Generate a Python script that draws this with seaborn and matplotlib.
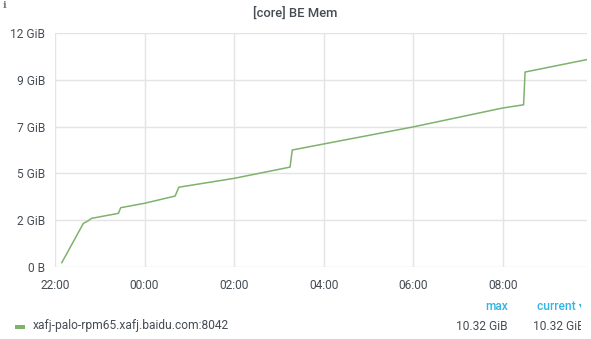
import matplotlib
matplotlib.use("Agg")
import matplotlib.pyplot as plt
import numpy as np
import pandas as pd
import seaborn as sns

# ---- data ----
timestamps = [
    "2020-06-01 22:09", "2020-06-01 22:38", "2020-06-01 22:44", "2020-06-01 22:49",
    "2020-06-01 23:25", "2020-06-01 23:28", "2020-06-02 00:00", "2020-06-02 00:41",
    "2020-06-02 00:46", "2020-06-02 02:00", "2020-06-02 03:15", "2020-06-02 03:18",
    "2020-06-02 04:00", "2020-06-02 06:00", "2020-06-02 08:00", "2020-06-02 08:28",
    "2020-06-02 08:30", "2020-06-02 09:53",
]
mem_gib = [
    0.21, 2.17, 2.29, 2.42,
    2.67, 2.95, 3.17, 3.53,
    3.97, 4.41, 4.97, 5.82,
    6.12, 6.97, 7.91, 8.07,
    9.70, 10.32,
]
series_name = "xafj-palo-rpm65.xafj.baidu.com:8042"
legend_headers = ["max", "current \u25be"]
legend_values = ["10.32 GiB", "10.32 GiB"]
title = "[core] BE Mem"

x_tick_labels = ["22:00", "00:00", "02:00", "04:00", "06:00", "08:00"]
x_tick_dates = ["2020-06-01", "2020-06-02", "2020-06-02", "2020-06-02", "2020-06-02", "2020-06-02"]
y_tick_labels = ["0 B", "2 GiB", "5 GiB", "7 GiB", "9 GiB", "12 GiB"]
y_tick_bytes = [0, 2.5e9, 5.0e9, 7.5e9, 10.0e9, 12.5e9]
x_range = ["2020-06-01 22:00", "2020-06-02 09:53"]

df = pd.DataFrame({"time": pd.to_datetime(timestamps), "mem": mem_gib})

# ---- style ----
sns.set_style("white")
plt.rcParams["font.family"] = ["Roboto", "DejaVu Sans"]
text_col = "#464c54"
grid_col = "#e4e4e4"
line_col = "#7eb26d"
px = 72 / 100.0  # points per pixel at dpi 100

fig = plt.figure(figsize=(5.91, 3.39), dpi=100)
ax = fig.add_axes([55 / 591, 1 - 267 / 339, (587 - 55) / 591, (267 - 33) / 339])

sns.lineplot(data=df, x="time", y="mem", ax=ax, color=line_col, linewidth=1.1,
             legend=False)

y_ticks = [b / 2**30 for b in y_tick_bytes]
ax.set_ylim(y_ticks[0], y_ticks[-1])
ax.set_yticks(y_ticks)
ax.set_yticklabels(y_tick_labels)

x_ticks = pd.to_datetime([d + " " + t for d, t in zip(x_tick_dates, x_tick_labels)])
ax.set_xlim(pd.to_datetime(x_range[0]), pd.to_datetime(x_range[1]))
ax.set_xticks(x_ticks)
ax.set_xticklabels(x_tick_labels)

ax.set_xlabel("")
ax.set_ylabel("")
ax.grid(True, color=grid_col, linewidth=1)
ax.set_axisbelow(True)
for s in ax.spines.values():
    s.set_visible(False)
ax.tick_params(axis="both", length=6 * px, width=1, color=grid_col,
               labelsize=12 * px, labelcolor=text_col, pad=3)
ax.tick_params(axis="x", pad=4)

# title
fig.text(295 / 591, 1 - 13 / 339, title, ha="center", va="center",
         fontsize=13 * px, color=text_col, fontweight="medium")
# info icon
fig.text(5 / 591, 1 - 5 / 339, "i", ha="center", va="center",
         fontsize=10 * px, color="#7b7b7b", fontweight="bold", family="DejaVu Serif")

# legend
fig.add_artist(plt.Line2D([15 / 591, 25 / 591], [1 - 327 / 339, 1 - 327 / 339],
                          color=line_col, linewidth=4 * px, solid_capstyle="butt"))
fig.text(33 / 591, 1 - 326 / 339, series_name, ha="left", va="center",
         fontsize=12 * px, color=text_col)
fig.text(508 / 591, 1 - 306 / 339, legend_headers[0], ha="right", va="center",
         fontsize=12 * px, color="#33b5e5", fontweight="medium")
t_cur = fig.text(537 / 591, 1 - 306 / 339, legend_headers[1], ha="left", va="center",
                 fontsize=12 * px, color="#33b5e5", fontweight="medium",
                 family=["Roboto", "DejaVu Sans"])
fig.text(508 / 591, 1 - 326 / 339, legend_values[0], ha="right", va="center",
         fontsize=12 * px, color=text_col)
t_val = fig.text(533 / 591, 1 - 326 / 339, legend_values[1], ha="left", va="center",
                 fontsize=12 * px, color=text_col)
clip = matplotlib.patches.Rectangle((0, 0), 581 / 591, 1, transform=fig.transFigure,
                                    visible=False)
fig.add_artist(clip)
for t in (t_cur, t_val):
    t.set_clip_path(clip)
    t.set_clip_on(True)

fig.savefig("out.png", dpi=100)
